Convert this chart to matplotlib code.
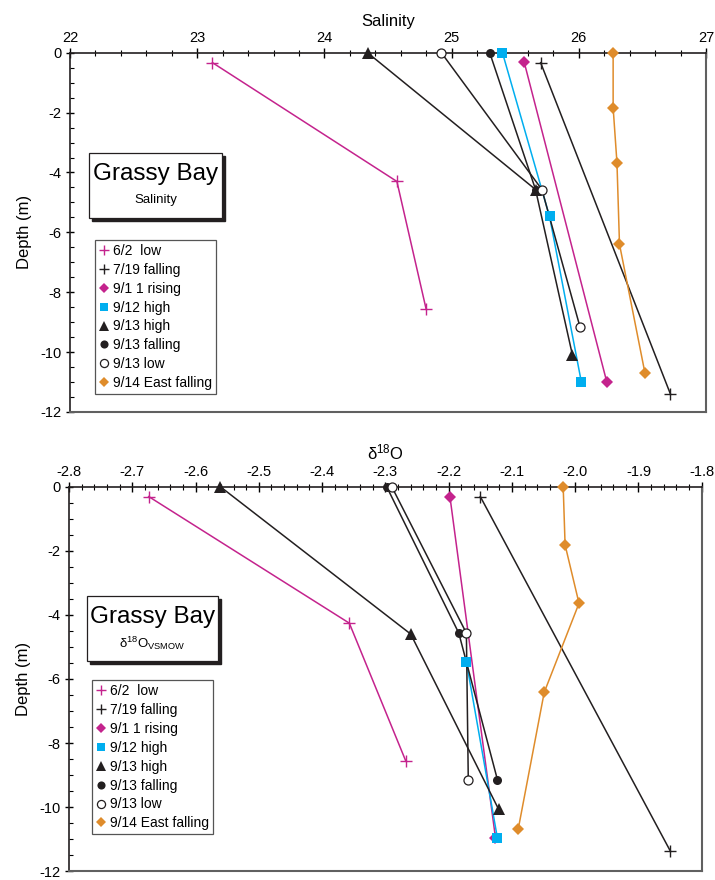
import numpy as np
import matplotlib
matplotlib.use("Agg")
import matplotlib.pyplot as plt
from matplotlib.patches import Rectangle
from matplotlib.ticker import MultipleLocator

plt.rcParams['font.family'] = ['Liberation Sans', 'DejaVu Sans']
plt.rcParams['axes.unicode_minus'] = False
plt.rcParams['mathtext.fontset'] = 'custom'
plt.rcParams['mathtext.rm'] = 'Liberation Sans'
plt.rcParams['mathtext.it'] = 'Liberation Sans'

MAG = '#c4238d'
CYAN = '#00aeef'
ORANGE = '#df8c2b'
BLK = '#231f20'

labels = ['6/2  low', '7/19 falling', '9/1 1 rising', '9/12 high',
          '9/13 high', '9/13 falling', '9/13 low', '9/14 East falling']

# salinity profiles (value, depth)
sal_62 = [23.12, 24.57, 24.80]
dep_sal_62 = [-0.33, -4.3, -8.57]
sal_719 = [25.70, 26.72]
dep_sal_719 = [-0.33, -11.4]
sal_911 = [25.57, 26.22]
dep_sal_911 = [-0.3, -11.0]
sal_912 = [25.40, 25.77, 26.02]
dep_sal_912 = [0, -5.47, -11.0]
sal_913h = [24.34, 25.66, 25.95]
dep_sal_913h = [0, -4.57, -10.1]
sal_913f = [25.30, 25.66]
dep_sal_913f = [0, -4.57]
sal_913l = [24.92, 25.71, 26.01]
dep_sal_913l = [0, -4.57, -9.17]
sal_914 = [26.27, 26.27, 26.30, 26.32, 26.52]
dep_sal_914 = [0, -1.83, -3.67, -6.4, -10.7]

# d18O profiles (value, depth)
d18_62 = [-2.674, -2.357, -2.268]
dep_d18_62 = [-0.31, -4.26, -8.55]
d18_719 = [-2.150, -1.850]
dep_d18_719 = [-0.31, -11.36]
d18_911 = [-2.198, -2.126]
dep_d18_911 = [-0.31, -10.96]
d18_912 = [-2.172, -2.123]
dep_d18_912 = [-5.47, -10.96]
d18_913h = [-2.561, -2.260, -2.121]
dep_d18_913h = [0, -4.6, -10.07]
d18_913f = [-2.298, -2.184, -2.123]
dep_d18_913f = [0, -4.57, -9.14]
d18_913l = [-2.290, -2.172, -2.169]
dep_d18_913l = [0, -4.57, -9.14]
d18_914 = [-2.019, -2.016, -1.994, -2.049, -2.090]
dep_d18_914 = [0, -1.82, -3.64, -6.42, -10.68]

styles = [
    dict(marker='+', color=MAG, ms=8, mew=1.0, mfc=MAG),
    dict(marker='+', color=BLK, ms=8, mew=1.0, mfc=BLK),
    dict(marker='D', color=MAG, ms=6, mew=0, mfc=MAG),
    dict(marker='s', color=CYAN, ms=6.5, mew=0, mfc=CYAN),
    dict(marker='^', color=BLK, ms=8, mew=0, mfc=BLK),
    dict(marker='o', color=BLK, ms=6.5, mew=0, mfc=BLK),
    dict(marker='o', color=BLK, ms=6.5, mew=0.9, mfc='white'),
    dict(marker='D', color=ORANGE, ms=6, mew=0, mfc=ORANGE),
]


def draw_panel(ax, series, xlim, major, minor, xlabel):
    for (xs, ds), st, lab in zip(series, styles, labels):
        ax.plot(xs, ds, '-', color=st['color'], lw=1.1, zorder=2)
        ax.plot(xs, ds, ls='none', marker=st['marker'], ms=st['ms'],
                mew=st['mew'], mec=st['color'], mfc=st['mfc'],
                label=lab, clip_on=False, zorder=4)
    ax.set_xlim(*xlim)
    ax.set_ylim(-12, 0)
    ax.xaxis.tick_top()
    ax.xaxis.set_label_position('top')
    ax.xaxis.set_major_locator(MultipleLocator(major))
    ax.xaxis.set_minor_locator(MultipleLocator(minor))
    ax.yaxis.set_major_locator(MultipleLocator(2))
    ax.yaxis.set_minor_locator(MultipleLocator(0.5))
    ax.tick_params(axis='x', which='major', direction='inout', length=7,
                   width=1, labelsize=10.5, pad=2)
    ax.tick_params(axis='x', which='minor', direction='inout', length=4, width=0.8)
    ax.tick_params(axis='y', which='major', direction='inout', length=6,
                   width=1, labelsize=10.5, pad=3)
    ax.tick_params(axis='y', which='minor', direction='in', length=3, width=0.8)
    ax.spines['top'].set_color(BLK)
    ax.spines['left'].set_color(BLK)
    ax.spines['top'].set_linewidth(1.2)
    ax.spines['left'].set_linewidth(1.2)
    for s in ('right', 'bottom'):
        ax.spines[s].set_color('#606060')
        ax.spines[s].set_linewidth(1.5)
    ax.set_xlabel(xlabel, fontsize=12, labelpad=4)
    ax.set_ylabel('Depth (m)', fontsize=12, labelpad=6)
    if major == 1:
        ax.xaxis.set_major_formatter(plt.FuncFormatter(lambda v, p: '%d' % round(v)))
    else:
        ax.xaxis.set_major_formatter(plt.FuncFormatter(lambda v, p: '%.1f' % v))


fig = plt.figure(figsize=(7.15, 8.8), dpi=100)
ax1 = fig.add_axes([0.0979, 0.532, 0.8895, 0.408])
ax2 = fig.add_axes([0.0965, 0.010, 0.885, 0.437])

top_series = [(sal_62, dep_sal_62), (sal_719, dep_sal_719), (sal_911, dep_sal_911),
              (sal_912, dep_sal_912), (sal_913h, dep_sal_913h), (sal_913f, dep_sal_913f),
              (sal_913l, dep_sal_913l), (sal_914, dep_sal_914)]
bot_series = [(d18_62, dep_d18_62), (d18_719, dep_d18_719), (d18_911, dep_d18_911),
              (d18_912, dep_d18_912), (d18_913h, dep_d18_913h), (d18_913f, dep_d18_913f),
              (d18_913l, dep_d18_913l), (d18_914, dep_d18_914)]

draw_panel(ax1, top_series, (22, 27), 1, 0.2, 'Salinity')
draw_panel(ax2, bot_series, (-2.8, -1.8), 0.1, 0.02, 'δ$^{18}$O')


def title_box(ax, x0, y0, x1, y1, sub):
    fw = fig.get_figwidth() * fig.dpi * ax.get_position().width
    fh = fig.get_figheight() * fig.dpi * ax.get_position().height
    dx, dy = 3.0 / fw, 3.0 / fh
    ax.add_patch(Rectangle((x0 + dx, y0 - dy), x1 - x0, y1 - y0, transform=ax.transAxes,
                           facecolor=BLK, edgecolor=BLK, zorder=5))
    ax.add_patch(Rectangle((x0, y0), x1 - x0, y1 - y0, transform=ax.transAxes,
                           facecolor='white', edgecolor=BLK, lw=0.9, zorder=6))
    xc = (x0 + x1) / 2
    ax.text(xc, y0 + (y1 - y0) * 0.68, 'Grassy Bay', transform=ax.transAxes,
            ha='center', va='center', fontsize=17.5, zorder=7)
    ax.text(xc, y0 + (y1 - y0) * 0.28, sub, transform=ax.transAxes,
            ha='center', va='center', fontsize=9.5, zorder=7)


title_box(ax1, 0.030, 0.540, 0.239, 0.721, 'Salinity')
title_box(ax2, 0.028, 0.546, 0.235, 0.716, 'δ$^{18}$O$_{\\mathrm{VSMOW}}$')

for ax, anchor in ((ax1, (0.039, 0.479)), (ax2, (0.036, 0.497))):
    leg = ax.legend(loc='upper left', bbox_to_anchor=anchor, borderaxespad=0,
                    fontsize=10, frameon=True, fancybox=False, framealpha=1,
                    handlelength=0.7, handletextpad=0.3, labelspacing=0.35,
                    borderpad=0.3, markerscale=0.9)
    leg.get_frame().set_edgecolor('#555555')
    leg.get_frame().set_linewidth(0.9)
    leg.set_zorder(8)

fig.savefig('out.png', dpi=100)
